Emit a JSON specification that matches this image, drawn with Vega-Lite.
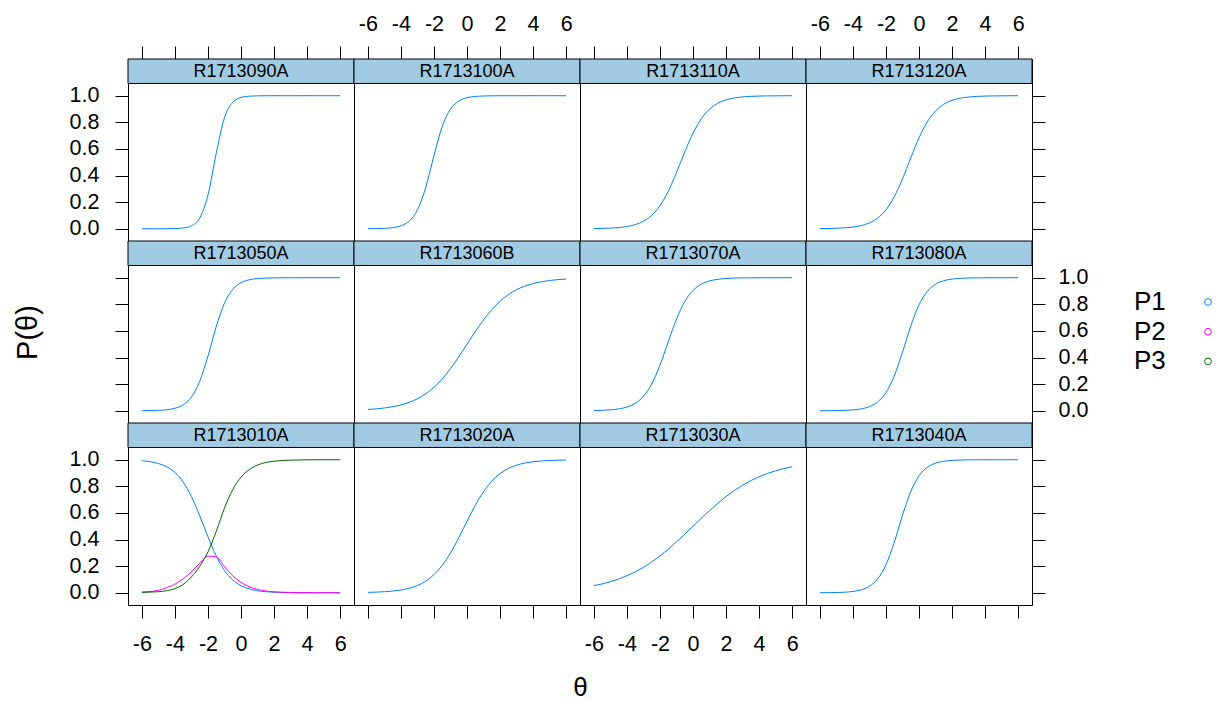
{
"$schema": "https://vega.github.io/schema/vega-lite/v6.json",
"background": "white",
"padding": {"left": 13, "top": 12, "right": 5, "bottom": 0},
"config": {
  "font": "Liberation Sans",
  "view": {"stroke": "#000000", "strokeWidth": 1},
  "axis": {"labelFont": "Liberation Sans", "labelFontSize": 21.5, "labelColor": "#000000", "tickColor": "#000000", "tickWidth": 1, "tickSize": 13, "titleFont": "Liberation Sans", "titleFontSize": 27, "titleFontWeight": "normal", "titleColor": "#000000", "domain": false, "grid": false, "labelFlush": false, "labelOverlap": false}
},
"datasets": {
"strips": [{"item":"R1713090A"},{"item":"R1713100A"},{"item":"R1713110A"},{"item":"R1713120A"},{"item":"R1713050A"},{"item":"R1713060B"},{"item":"R1713070A"},{"item":"R1713080A"},{"item":"R1713010A"},{"item":"R1713020A"},{"item":"R1713030A"},{"item":"R1713040A"}],
"curves": [
{"item":"R1713090A","cat":"P1","theta":-6,"p":0},{"item":"R1713090A","cat":"P1","theta":-5.5,"p":0},{"item":"R1713090A","cat":"P1","theta":-5,"p":0.0001},{"item":"R1713090A","cat":"P1","theta":-4.5,"p":0.0004},{"item":"R1713090A","cat":"P1","theta":-4,"p":0.0015},{"item":"R1713090A","cat":"P1","theta":-3.5,"p":0.0059},{"item":"R1713090A","cat":"P1","theta":-3,"p":0.0223},{"item":"R1713090A","cat":"P1","theta":-2.5,"p":0.0809},{"item":"R1713090A","cat":"P1","theta":-2,"p":0.2535},{"item":"R1713090A","cat":"P1","theta":-1.5,"p":0.5671},{"item":"R1713090A","cat":"P1","theta":-1,"p":0.8348},{"item":"R1713090A","cat":"P1","theta":-0.5,"p":0.9512},{"item":"R1713090A","cat":"P1","theta":0,"p":0.9869},{"item":"R1713090A","cat":"P1","theta":0.5,"p":0.9966},{"item":"R1713090A","cat":"P1","theta":1,"p":0.9991},{"item":"R1713090A","cat":"P1","theta":1.5,"p":0.9998},{"item":"R1713090A","cat":"P1","theta":2,"p":0.9999},{"item":"R1713090A","cat":"P1","theta":2.5,"p":1},{"item":"R1713090A","cat":"P1","theta":3,"p":1},{"item":"R1713090A","cat":"P1","theta":3.5,"p":1},{"item":"R1713090A","cat":"P1","theta":4,"p":1},{"item":"R1713090A","cat":"P1","theta":4.5,"p":1},{"item":"R1713090A","cat":"P1","theta":5,"p":1},{"item":"R1713090A","cat":"P1","theta":5.5,"p":1},{"item":"R1713090A","cat":"P1","theta":6,"p":1},
{"item":"R1713100A","cat":"P1","theta":-6,"p":0.0004},{"item":"R1713100A","cat":"P1","theta":-5.5,"p":0.0011},{"item":"R1713100A","cat":"P1","theta":-5,"p":0.003},{"item":"R1713100A","cat":"P1","theta":-4.5,"p":0.0082},{"item":"R1713100A","cat":"P1","theta":-4,"p":0.0219},{"item":"R1713100A","cat":"P1","theta":-3.5,"p":0.0573},{"item":"R1713100A","cat":"P1","theta":-3,"p":0.1419},{"item":"R1713100A","cat":"P1","theta":-2.5,"p":0.31},{"item":"R1713100A","cat":"P1","theta":-2,"p":0.5498},{"item":"R1713100A","cat":"P1","theta":-1.5,"p":0.7685},{"item":"R1713100A","cat":"P1","theta":-1,"p":0.9002},{"item":"R1713100A","cat":"P1","theta":-0.5,"p":0.9608},{"item":"R1713100A","cat":"P1","theta":0,"p":0.9852},{"item":"R1713100A","cat":"P1","theta":0.5,"p":0.9945},{"item":"R1713100A","cat":"P1","theta":1,"p":0.998},{"item":"R1713100A","cat":"P1","theta":1.5,"p":0.9993},{"item":"R1713100A","cat":"P1","theta":2,"p":0.9997},{"item":"R1713100A","cat":"P1","theta":2.5,"p":0.9999},{"item":"R1713100A","cat":"P1","theta":3,"p":1},{"item":"R1713100A","cat":"P1","theta":3.5,"p":1},{"item":"R1713100A","cat":"P1","theta":4,"p":1},{"item":"R1713100A","cat":"P1","theta":4.5,"p":1},{"item":"R1713100A","cat":"P1","theta":5,"p":1},{"item":"R1713100A","cat":"P1","theta":5.5,"p":1},{"item":"R1713100A","cat":"P1","theta":6,"p":1},
{"item":"R1713110A","cat":"P1","theta":-6,"p":0.0014},{"item":"R1713110A","cat":"P1","theta":-5.5,"p":0.0026},{"item":"R1713110A","cat":"P1","theta":-5,"p":0.0049},{"item":"R1713110A","cat":"P1","theta":-4.5,"p":0.0091},{"item":"R1713110A","cat":"P1","theta":-4,"p":0.0169},{"item":"R1713110A","cat":"P1","theta":-3.5,"p":0.0311},{"item":"R1713110A","cat":"P1","theta":-3,"p":0.0567},{"item":"R1713110A","cat":"P1","theta":-2.5,"p":0.1009},{"item":"R1713110A","cat":"P1","theta":-2,"p":0.1733},{"item":"R1713110A","cat":"P1","theta":-1.5,"p":0.2814},{"item":"R1713110A","cat":"P1","theta":-1,"p":0.4225},{"item":"R1713110A","cat":"P1","theta":-0.5,"p":0.5775},{"item":"R1713110A","cat":"P1","theta":0,"p":0.7186},{"item":"R1713110A","cat":"P1","theta":0.5,"p":0.8267},{"item":"R1713110A","cat":"P1","theta":1,"p":0.8991},{"item":"R1713110A","cat":"P1","theta":1.5,"p":0.9433},{"item":"R1713110A","cat":"P1","theta":2,"p":0.9689},{"item":"R1713110A","cat":"P1","theta":2.5,"p":0.9831},{"item":"R1713110A","cat":"P1","theta":3,"p":0.9909},{"item":"R1713110A","cat":"P1","theta":3.5,"p":0.9951},{"item":"R1713110A","cat":"P1","theta":4,"p":0.9974},{"item":"R1713110A","cat":"P1","theta":4.5,"p":0.9986},{"item":"R1713110A","cat":"P1","theta":5,"p":0.9992},{"item":"R1713110A","cat":"P1","theta":5.5,"p":0.9996},{"item":"R1713110A","cat":"P1","theta":6,"p":0.9998},
{"item":"R1713120A","cat":"P1","theta":-6,"p":0.001},{"item":"R1713120A","cat":"P1","theta":-5.5,"p":0.0019},{"item":"R1713120A","cat":"P1","theta":-5,"p":0.0036},{"item":"R1713120A","cat":"P1","theta":-4.5,"p":0.0067},{"item":"R1713120A","cat":"P1","theta":-4,"p":0.0127},{"item":"R1713120A","cat":"P1","theta":-3.5,"p":0.0239},{"item":"R1713120A","cat":"P1","theta":-3,"p":0.0443},{"item":"R1713120A","cat":"P1","theta":-2.5,"p":0.0808},{"item":"R1713120A","cat":"P1","theta":-2,"p":0.1428},{"item":"R1713120A","cat":"P1","theta":-1.5,"p":0.2401},{"item":"R1713120A","cat":"P1","theta":-1,"p":0.3747},{"item":"R1713120A","cat":"P1","theta":-0.5,"p":0.532},{"item":"R1713120A","cat":"P1","theta":0,"p":0.6831},{"item":"R1713120A","cat":"P1","theta":0.5,"p":0.8035},{"item":"R1713120A","cat":"P1","theta":1,"p":0.8857},{"item":"R1713120A","cat":"P1","theta":1.5,"p":0.9364},{"item":"R1713120A","cat":"P1","theta":2,"p":0.9653},{"item":"R1713120A","cat":"P1","theta":2.5,"p":0.9814},{"item":"R1713120A","cat":"P1","theta":3,"p":0.9901},{"item":"R1713120A","cat":"P1","theta":3.5,"p":0.9948},{"item":"R1713120A","cat":"P1","theta":4,"p":0.9972},{"item":"R1713120A","cat":"P1","theta":4.5,"p":0.9985},{"item":"R1713120A","cat":"P1","theta":5,"p":0.9992},{"item":"R1713120A","cat":"P1","theta":5.5,"p":0.9996},{"item":"R1713120A","cat":"P1","theta":6,"p":0.9998},
{"item":"R1713050A","cat":"P1","theta":-6,"p":0.0005},{"item":"R1713050A","cat":"P1","theta":-5.5,"p":0.0013},{"item":"R1713050A","cat":"P1","theta":-5,"p":0.0031},{"item":"R1713050A","cat":"P1","theta":-4.5,"p":0.0077},{"item":"R1713050A","cat":"P1","theta":-4,"p":0.0187},{"item":"R1713050A","cat":"P1","theta":-3.5,"p":0.0448},{"item":"R1713050A","cat":"P1","theta":-3,"p":0.1034},{"item":"R1713050A","cat":"P1","theta":-2.5,"p":0.221},{"item":"R1713050A","cat":"P1","theta":-2,"p":0.411},{"item":"R1713050A","cat":"P1","theta":-1.5,"p":0.6318},{"item":"R1713050A","cat":"P1","theta":-1,"p":0.8085},{"item":"R1713050A","cat":"P1","theta":-0.5,"p":0.9122},{"item":"R1713050A","cat":"P1","theta":0,"p":0.9623},{"item":"R1713050A","cat":"P1","theta":0.5,"p":0.9843},{"item":"R1713050A","cat":"P1","theta":1,"p":0.9936},{"item":"R1713050A","cat":"P1","theta":1.5,"p":0.9974},{"item":"R1713050A","cat":"P1","theta":2,"p":0.9989},{"item":"R1713050A","cat":"P1","theta":2.5,"p":0.9996},{"item":"R1713050A","cat":"P1","theta":3,"p":0.9998},{"item":"R1713050A","cat":"P1","theta":3.5,"p":0.9999},{"item":"R1713050A","cat":"P1","theta":4,"p":1},{"item":"R1713050A","cat":"P1","theta":4.5,"p":1},{"item":"R1713050A","cat":"P1","theta":5,"p":1},{"item":"R1713050A","cat":"P1","theta":5.5,"p":1},{"item":"R1713050A","cat":"P1","theta":6,"p":1},
{"item":"R1713060B","cat":"P1","theta":-6,"p":0.0098},{"item":"R1713060B","cat":"P1","theta":-5.5,"p":0.0143},{"item":"R1713060B","cat":"P1","theta":-5,"p":0.0208},{"item":"R1713060B","cat":"P1","theta":-4.5,"p":0.0303},{"item":"R1713060B","cat":"P1","theta":-4,"p":0.0439},{"item":"R1713060B","cat":"P1","theta":-3.5,"p":0.0633},{"item":"R1713060B","cat":"P1","theta":-3,"p":0.0903},{"item":"R1713060B","cat":"P1","theta":-2.5,"p":0.1273},{"item":"R1713060B","cat":"P1","theta":-2,"p":0.1765},{"item":"R1713060B","cat":"P1","theta":-1.5,"p":0.2396},{"item":"R1713060B","cat":"P1","theta":-1,"p":0.3165},{"item":"R1713060B","cat":"P1","theta":-0.5,"p":0.4049},{"item":"R1713060B","cat":"P1","theta":0,"p":0.5},{"item":"R1713060B","cat":"P1","theta":0.5,"p":0.5951},{"item":"R1713060B","cat":"P1","theta":1,"p":0.6835},{"item":"R1713060B","cat":"P1","theta":1.5,"p":0.7604},{"item":"R1713060B","cat":"P1","theta":2,"p":0.8235},{"item":"R1713060B","cat":"P1","theta":2.5,"p":0.8727},{"item":"R1713060B","cat":"P1","theta":3,"p":0.9097},{"item":"R1713060B","cat":"P1","theta":3.5,"p":0.9367},{"item":"R1713060B","cat":"P1","theta":4,"p":0.9561},{"item":"R1713060B","cat":"P1","theta":4.5,"p":0.9697},{"item":"R1713060B","cat":"P1","theta":5,"p":0.9792},{"item":"R1713060B","cat":"P1","theta":5.5,"p":0.9857},{"item":"R1713060B","cat":"P1","theta":6,"p":0.9902},
{"item":"R1713070A","cat":"P1","theta":-6,"p":0.0016},{"item":"R1713070A","cat":"P1","theta":-5.5,"p":0.0032},{"item":"R1713070A","cat":"P1","theta":-5,"p":0.0067},{"item":"R1713070A","cat":"P1","theta":-4.5,"p":0.0137},{"item":"R1713070A","cat":"P1","theta":-4,"p":0.0279},{"item":"R1713070A","cat":"P1","theta":-3.5,"p":0.0559},{"item":"R1713070A","cat":"P1","theta":-3,"p":0.1089},{"item":"R1713070A","cat":"P1","theta":-2.5,"p":0.2014},{"item":"R1713070A","cat":"P1","theta":-2,"p":0.3424},{"item":"R1713070A","cat":"P1","theta":-1.5,"p":0.5181},{"item":"R1713070A","cat":"P1","theta":-1,"p":0.6894},{"item":"R1713070A","cat":"P1","theta":-0.5,"p":0.8209},{"item":"R1713070A","cat":"P1","theta":0,"p":0.9044},{"item":"R1713070A","cat":"P1","theta":0.5,"p":0.9513},{"item":"R1713070A","cat":"P1","theta":1,"p":0.9758},{"item":"R1713070A","cat":"P1","theta":1.5,"p":0.9881},{"item":"R1713070A","cat":"P1","theta":2,"p":0.9942},{"item":"R1713070A","cat":"P1","theta":2.5,"p":0.9972},{"item":"R1713070A","cat":"P1","theta":3,"p":0.9986},{"item":"R1713070A","cat":"P1","theta":3.5,"p":0.9993},{"item":"R1713070A","cat":"P1","theta":4,"p":0.9997},{"item":"R1713070A","cat":"P1","theta":4.5,"p":0.9998},{"item":"R1713070A","cat":"P1","theta":5,"p":0.9999},{"item":"R1713070A","cat":"P1","theta":5.5,"p":0.9999},{"item":"R1713070A","cat":"P1","theta":6,"p":1},
{"item":"R1713080A","cat":"P1","theta":-6,"p":0.0003},{"item":"R1713080A","cat":"P1","theta":-5.5,"p":0.0006},{"item":"R1713080A","cat":"P1","theta":-5,"p":0.0013},{"item":"R1713080A","cat":"P1","theta":-4.5,"p":0.0029},{"item":"R1713080A","cat":"P1","theta":-4,"p":0.0064},{"item":"R1713080A","cat":"P1","theta":-3.5,"p":0.0142},{"item":"R1713080A","cat":"P1","theta":-3,"p":0.0311},{"item":"R1713080A","cat":"P1","theta":-2.5,"p":0.0666},{"item":"R1713080A","cat":"P1","theta":-2,"p":0.137},{"item":"R1713080A","cat":"P1","theta":-1.5,"p":0.2611},{"item":"R1713080A","cat":"P1","theta":-1,"p":0.4403},{"item":"R1713080A","cat":"P1","theta":-0.5,"p":0.6365},{"item":"R1713080A","cat":"P1","theta":0,"p":0.7958},{"item":"R1713080A","cat":"P1","theta":0.5,"p":0.8966},{"item":"R1713080A","cat":"P1","theta":1,"p":0.9508},{"item":"R1713080A","cat":"P1","theta":1.5,"p":0.9773},{"item":"R1713080A","cat":"P1","theta":2,"p":0.9896},{"item":"R1713080A","cat":"P1","theta":2.5,"p":0.9953},{"item":"R1713080A","cat":"P1","theta":3,"p":0.9979},{"item":"R1713080A","cat":"P1","theta":3.5,"p":0.9991},{"item":"R1713080A","cat":"P1","theta":4,"p":0.9996},{"item":"R1713080A","cat":"P1","theta":4.5,"p":0.9998},{"item":"R1713080A","cat":"P1","theta":5,"p":0.9999},{"item":"R1713080A","cat":"P1","theta":5.5,"p":1},{"item":"R1713080A","cat":"P1","theta":6,"p":1},
{"item":"R1713010A","cat":"P1","theta":-6,"p":0.992},{"item":"R1713010A","cat":"P1","theta":-5.5,"p":0.985},{"item":"R1713010A","cat":"P1","theta":-5,"p":0.971},{"item":"R1713010A","cat":"P1","theta":-4.5,"p":0.947},{"item":"R1713010A","cat":"P1","theta":-4,"p":0.904},{"item":"R1713010A","cat":"P1","theta":-3.5,"p":0.832},{"item":"R1713010A","cat":"P1","theta":-3,"p":0.723},{"item":"R1713010A","cat":"P1","theta":-2.5,"p":0.579},{"item":"R1713010A","cat":"P1","theta":-2,"p":0.421},{"item":"R1713010A","cat":"P1","theta":-1.5,"p":0.277},{"item":"R1713010A","cat":"P1","theta":-1,"p":0.168},{"item":"R1713010A","cat":"P1","theta":-0.5,"p":0.096},{"item":"R1713010A","cat":"P1","theta":0,"p":0.053},{"item":"R1713010A","cat":"P1","theta":0.5,"p":0.029},{"item":"R1713010A","cat":"P1","theta":1,"p":0.015},{"item":"R1713010A","cat":"P1","theta":1.5,"p":0.008},{"item":"R1713010A","cat":"P1","theta":2,"p":0.004},{"item":"R1713010A","cat":"P1","theta":2.5,"p":0.002},{"item":"R1713010A","cat":"P1","theta":3,"p":0.001},{"item":"R1713010A","cat":"P1","theta":3.5,"p":0.0006},{"item":"R1713010A","cat":"P1","theta":4,"p":0.0003},{"item":"R1713010A","cat":"P1","theta":4.5,"p":0.0001},{"item":"R1713010A","cat":"P1","theta":5,"p":0.0001},{"item":"R1713010A","cat":"P1","theta":5.5,"p":0},{"item":"R1713010A","cat":"P1","theta":6,"p":0},
{"item":"R1713010A","cat":"P2","theta":-6,"p":0.005},{"item":"R1713010A","cat":"P2","theta":-5.5,"p":0.009},{"item":"R1713010A","cat":"P2","theta":-5,"p":0.018},{"item":"R1713010A","cat":"P2","theta":-4.5,"p":0.038},{"item":"R1713010A","cat":"P2","theta":-4,"p":0.065},{"item":"R1713010A","cat":"P2","theta":-3.5,"p":0.105},{"item":"R1713010A","cat":"P2","theta":-3,"p":0.158},{"item":"R1713010A","cat":"P2","theta":-2.5,"p":0.222},{"item":"R1713010A","cat":"P2","theta":-2,"p":0.275},{"item":"R1713010A","cat":"P2","theta":-1.5,"p":0.27},{"item":"R1713010A","cat":"P2","theta":-1,"p":0.196},{"item":"R1713010A","cat":"P2","theta":-0.5,"p":0.128},{"item":"R1713010A","cat":"P2","theta":0,"p":0.078},{"item":"R1713010A","cat":"P2","theta":0.5,"p":0.045},{"item":"R1713010A","cat":"P2","theta":1,"p":0.025},{"item":"R1713010A","cat":"P2","theta":1.5,"p":0.013},{"item":"R1713010A","cat":"P2","theta":2,"p":0.007},{"item":"R1713010A","cat":"P2","theta":2.5,"p":0.004},{"item":"R1713010A","cat":"P2","theta":3,"p":0.002},{"item":"R1713010A","cat":"P2","theta":3.5,"p":0.001},{"item":"R1713010A","cat":"P2","theta":4,"p":0.0005},{"item":"R1713010A","cat":"P2","theta":4.5,"p":0.0003},{"item":"R1713010A","cat":"P2","theta":5,"p":0.0002},{"item":"R1713010A","cat":"P2","theta":5.5,"p":0.0001},{"item":"R1713010A","cat":"P2","theta":6,"p":0.0001},
{"item":"R1713010A","cat":"P3","theta":-6,"p":0.003},{"item":"R1713010A","cat":"P3","theta":-5.5,"p":0.005},{"item":"R1713010A","cat":"P3","theta":-5,"p":0.008},{"item":"R1713010A","cat":"P3","theta":-4.5,"p":0.015},{"item":"R1713010A","cat":"P3","theta":-4,"p":0.031},{"item":"R1713010A","cat":"P3","theta":-3.5,"p":0.063},{"item":"R1713010A","cat":"P3","theta":-3,"p":0.119},{"item":"R1713010A","cat":"P3","theta":-2.5,"p":0.199},{"item":"R1713010A","cat":"P3","theta":-2,"p":0.307},{"item":"R1713010A","cat":"P3","theta":-1.5,"p":0.461},{"item":"R1713010A","cat":"P3","theta":-1,"p":0.636},{"item":"R1713010A","cat":"P3","theta":-0.5,"p":0.776},{"item":"R1713010A","cat":"P3","theta":0,"p":0.869},{"item":"R1713010A","cat":"P3","theta":0.5,"p":0.926},{"item":"R1713010A","cat":"P3","theta":1,"p":0.96},{"item":"R1713010A","cat":"P3","theta":1.5,"p":0.979},{"item":"R1713010A","cat":"P3","theta":2,"p":0.989},{"item":"R1713010A","cat":"P3","theta":2.5,"p":0.994},{"item":"R1713010A","cat":"P3","theta":3,"p":0.997},{"item":"R1713010A","cat":"P3","theta":3.5,"p":0.998},{"item":"R1713010A","cat":"P3","theta":4,"p":0.999},{"item":"R1713010A","cat":"P3","theta":4.5,"p":0.9996},{"item":"R1713010A","cat":"P3","theta":5,"p":0.9997},{"item":"R1713010A","cat":"P3","theta":5.5,"p":0.9999},{"item":"R1713010A","cat":"P3","theta":6,"p":0.9999},
{"item":"R1713020A","cat":"P1","theta":-6,"p":0.0029},{"item":"R1713020A","cat":"P1","theta":-5.5,"p":0.0047},{"item":"R1713020A","cat":"P1","theta":-5,"p":0.0078},{"item":"R1713020A","cat":"P1","theta":-4.5,"p":0.0127},{"item":"R1713020A","cat":"P1","theta":-4,"p":0.0208},{"item":"R1713020A","cat":"P1","theta":-3.5,"p":0.0339},{"item":"R1713020A","cat":"P1","theta":-3,"p":0.0547},{"item":"R1713020A","cat":"P1","theta":-2.5,"p":0.087},{"item":"R1713020A","cat":"P1","theta":-2,"p":0.1359},{"item":"R1713020A","cat":"P1","theta":-1.5,"p":0.2059},{"item":"R1713020A","cat":"P1","theta":-1,"p":0.2994},{"item":"R1713020A","cat":"P1","theta":-0.5,"p":0.4134},{"item":"R1713020A","cat":"P1","theta":0,"p":0.5374},{"item":"R1713020A","cat":"P1","theta":0.5,"p":0.657},{"item":"R1713020A","cat":"P1","theta":1,"p":0.7595},{"item":"R1713020A","cat":"P1","theta":1.5,"p":0.8389},{"item":"R1713020A","cat":"P1","theta":2,"p":0.8957},{"item":"R1713020A","cat":"P1","theta":2.5,"p":0.934},{"item":"R1713020A","cat":"P1","theta":3,"p":0.9589},{"item":"R1713020A","cat":"P1","theta":3.5,"p":0.9747},{"item":"R1713020A","cat":"P1","theta":4,"p":0.9845},{"item":"R1713020A","cat":"P1","theta":4.5,"p":0.9905},{"item":"R1713020A","cat":"P1","theta":5,"p":0.9942},{"item":"R1713020A","cat":"P1","theta":5.5,"p":0.9965},{"item":"R1713020A","cat":"P1","theta":6,"p":0.9979},
{"item":"R1713030A","cat":"P1","theta":-6,"p":0.0532},{"item":"R1713030A","cat":"P1","theta":-5.5,"p":0.0666},{"item":"R1713030A","cat":"P1","theta":-5,"p":0.0832},{"item":"R1713030A","cat":"P1","theta":-4.5,"p":0.1034},{"item":"R1713030A","cat":"P1","theta":-4,"p":0.1279},{"item":"R1713030A","cat":"P1","theta":-3.5,"p":0.1571},{"item":"R1713030A","cat":"P1","theta":-3,"p":0.1915},{"item":"R1713030A","cat":"P1","theta":-2.5,"p":0.2315},{"item":"R1713030A","cat":"P1","theta":-2,"p":0.2769},{"item":"R1713030A","cat":"P1","theta":-1.5,"p":0.3274},{"item":"R1713030A","cat":"P1","theta":-1,"p":0.3823},{"item":"R1713030A","cat":"P1","theta":-0.5,"p":0.4403},{"item":"R1713030A","cat":"P1","theta":0,"p":0.5},{"item":"R1713030A","cat":"P1","theta":0.5,"p":0.5597},{"item":"R1713030A","cat":"P1","theta":1,"p":0.6177},{"item":"R1713030A","cat":"P1","theta":1.5,"p":0.6726},{"item":"R1713030A","cat":"P1","theta":2,"p":0.7231},{"item":"R1713030A","cat":"P1","theta":2.5,"p":0.7685},{"item":"R1713030A","cat":"P1","theta":3,"p":0.8085},{"item":"R1713030A","cat":"P1","theta":3.5,"p":0.8429},{"item":"R1713030A","cat":"P1","theta":4,"p":0.8721},{"item":"R1713030A","cat":"P1","theta":4.5,"p":0.8966},{"item":"R1713030A","cat":"P1","theta":5,"p":0.9168},{"item":"R1713030A","cat":"P1","theta":5.5,"p":0.9334},{"item":"R1713030A","cat":"P1","theta":6,"p":0.9468},
{"item":"R1713040A","cat":"P1","theta":-6,"p":0.0004},{"item":"R1713040A","cat":"P1","theta":-5.5,"p":0.0008},{"item":"R1713040A","cat":"P1","theta":-5,"p":0.0019},{"item":"R1713040A","cat":"P1","theta":-4.5,"p":0.0043},{"item":"R1713040A","cat":"P1","theta":-4,"p":0.0098},{"item":"R1713040A","cat":"P1","theta":-3.5,"p":0.022},{"item":"R1713040A","cat":"P1","theta":-3,"p":0.0488},{"item":"R1713040A","cat":"P1","theta":-2.5,"p":0.1048},{"item":"R1713040A","cat":"P1","theta":-2,"p":0.2108},{"item":"R1713040A","cat":"P1","theta":-1.5,"p":0.3787},{"item":"R1713040A","cat":"P1","theta":-1,"p":0.5818},{"item":"R1713040A","cat":"P1","theta":-0.5,"p":0.7604},{"item":"R1713040A","cat":"P1","theta":0,"p":0.8787},{"item":"R1713040A","cat":"P1","theta":0.5,"p":0.943},{"item":"R1713040A","cat":"P1","theta":1,"p":0.9742},{"item":"R1713040A","cat":"P1","theta":1.5,"p":0.9885},{"item":"R1713040A","cat":"P1","theta":2,"p":0.9949},{"item":"R1713040A","cat":"P1","theta":2.5,"p":0.9978},{"item":"R1713040A","cat":"P1","theta":3,"p":0.999},{"item":"R1713040A","cat":"P1","theta":3.5,"p":0.9996},{"item":"R1713040A","cat":"P1","theta":4,"p":0.9998},{"item":"R1713040A","cat":"P1","theta":4.5,"p":0.9999},{"item":"R1713040A","cat":"P1","theta":5,"p":1},{"item":"R1713040A","cat":"P1","theta":5.5,"p":1},{"item":"R1713040A","cat":"P1","theta":6,"p":1}
]
},
"columns": 4,
"spacing": 0,
"bounds": "flush",
"concat": [
{"width": 226, "height": 182, "layer": [
 {"data": {"name": "strips"}, "transform": [{"filter": "datum.item === 'R1713090A'"}], "mark": {"type": "rect", "fill": "#A0CBE2", "stroke": "#000000", "strokeWidth": 1}, "encoding": {"x": {"datum": -6.84, "type": "quantitative", "scale": {"domain": [-6.84, 6.84], "nice": false, "zero": false}, "axis": {"orient": "top", "values": [-6,-4,-2,0,2,4,6], "labels": false, "title": null, "labelFlush": false}}, "x2": {"datum": 6.84}, "y": {"datum": 1.092, "type": "quantitative", "scale": {"domain": [-0.092, 1.276], "nice": false, "zero": false}, "axis": {"orient": "left", "values": [0,0.2,0.4,0.6,0.8,1], "format": ".1f", "labelPadding": 16, "title": null, "labelFlush": false}}, "y2": {"datum": 1.276}}},
 {"data": {"name": "strips"}, "transform": [{"filter": "datum.item === 'R1713090A'"}], "mark": {"type": "text", "fontSize": 18, "font": "Liberation Sans", "color": "#000000", "baseline": "middle", "dy": 1}, "encoding": {"x": {"datum": 0, "type": "quantitative", "scale": {"domain": [-6.84, 6.84], "nice": false, "zero": false}, "axis": {"orient": "top", "values": [-6,-4,-2,0,2,4,6], "labels": false, "title": null, "labelFlush": false}}, "y": {"datum": 1.184, "type": "quantitative", "scale": {"domain": [-0.092, 1.276], "nice": false, "zero": false}, "axis": {"orient": "left", "values": [0,0.2,0.4,0.6,0.8,1], "format": ".1f", "labelPadding": 16, "title": null, "labelFlush": false}}, "text": {"field": "item", "type": "nominal"}}},
 {"data": {"name": "curves"}, "transform": [{"filter": "datum.item === 'R1713090A'"}], "mark": {"type": "line", "strokeWidth": 1, "interpolate": "monotone"}, "encoding": {
   "x": {"field": "theta", "type": "quantitative", "scale": {"domain": [-6.84, 6.84], "nice": false, "zero": false}, "axis": {"orient": "top", "values": [-6,-4,-2,0,2,4,6], "labels": false, "title": null, "labelFlush": false}},
   "y": {"field": "p", "type": "quantitative", "scale": {"domain": [-0.092, 1.276], "nice": false, "zero": false}, "axis": {"orient": "left", "values": [0,0.2,0.4,0.6,0.8,1], "format": ".1f", "labelPadding": 16, "title": null, "labelFlush": false}},
   "color": {"field": "cat", "type": "nominal", "scale": {"domain": ["P1","P2","P3"], "range": ["#0080FF","#FF00FF","#006400"]}, "legend": {"orient": "none", "legendX": 987, "legendY": 230, "title": null, "symbolType": "circle", "symbolSize": 45, "symbolStrokeWidth": 1, "symbolFillColor": "transparent", "labelFontSize": 26, "labelFont": "Liberation Sans", "labelColor": "#000000", "symbolOffset": 80, "labelOffset": -87, "rowPadding": 3.7, "padding": 0}}}}
]},
{"width": 226, "height": 182, "layer": [
 {"data": {"name": "strips"}, "transform": [{"filter": "datum.item === 'R1713100A'"}], "mark": {"type": "rect", "fill": "#A0CBE2", "stroke": "#000000", "strokeWidth": 1}, "encoding": {"x": {"datum": -6.84, "type": "quantitative", "scale": {"domain": [-6.84, 6.84], "nice": false, "zero": false}, "axis": {"orient": "top", "values": [-6,-4,-2,0,2,4,6], "labelPadding": 11, "labelExpr": "'' + datum.value", "title": null, "labelFlush": false}}, "x2": {"datum": 6.84}, "y": {"datum": 1.092, "type": "quantitative", "scale": {"domain": [-0.092, 1.276], "nice": false, "zero": false}, "axis": null}, "y2": {"datum": 1.276}}},
 {"data": {"name": "strips"}, "transform": [{"filter": "datum.item === 'R1713100A'"}], "mark": {"type": "text", "fontSize": 18, "font": "Liberation Sans", "color": "#000000", "baseline": "middle", "dy": 1}, "encoding": {"x": {"datum": 0, "type": "quantitative", "scale": {"domain": [-6.84, 6.84], "nice": false, "zero": false}, "axis": {"orient": "top", "values": [-6,-4,-2,0,2,4,6], "labelPadding": 11, "labelExpr": "'' + datum.value", "title": null, "labelFlush": false}}, "y": {"datum": 1.184, "type": "quantitative", "scale": {"domain": [-0.092, 1.276], "nice": false, "zero": false}, "axis": null}, "text": {"field": "item", "type": "nominal"}}},
 {"data": {"name": "curves"}, "transform": [{"filter": "datum.item === 'R1713100A'"}], "mark": {"type": "line", "strokeWidth": 1, "interpolate": "monotone"}, "encoding": {
   "x": {"field": "theta", "type": "quantitative", "scale": {"domain": [-6.84, 6.84], "nice": false, "zero": false}, "axis": {"orient": "top", "values": [-6,-4,-2,0,2,4,6], "labelPadding": 11, "labelExpr": "'' + datum.value", "title": null, "labelFlush": false}},
   "y": {"field": "p", "type": "quantitative", "scale": {"domain": [-0.092, 1.276], "nice": false, "zero": false}, "axis": null},
   "color": {"field": "cat", "type": "nominal", "scale": {"domain": ["P1","P2","P3"], "range": ["#0080FF","#FF00FF","#006400"]}, "legend": {"orient": "none", "legendX": 987, "legendY": 230, "title": null, "symbolType": "circle", "symbolSize": 45, "symbolStrokeWidth": 1, "symbolFillColor": "transparent", "labelFontSize": 26, "labelFont": "Liberation Sans", "labelColor": "#000000", "symbolOffset": 80, "labelOffset": -87, "rowPadding": 3.7, "padding": 0}}}}
]},
{"width": 226, "height": 182, "layer": [
 {"data": {"name": "strips"}, "transform": [{"filter": "datum.item === 'R1713110A'"}], "mark": {"type": "rect", "fill": "#A0CBE2", "stroke": "#000000", "strokeWidth": 1}, "encoding": {"x": {"datum": -6.84, "type": "quantitative", "scale": {"domain": [-6.84, 6.84], "nice": false, "zero": false}, "axis": {"orient": "top", "values": [-6,-4,-2,0,2,4,6], "labels": false, "title": null, "labelFlush": false}}, "x2": {"datum": 6.84}, "y": {"datum": 1.092, "type": "quantitative", "scale": {"domain": [-0.092, 1.276], "nice": false, "zero": false}, "axis": null}, "y2": {"datum": 1.276}}},
 {"data": {"name": "strips"}, "transform": [{"filter": "datum.item === 'R1713110A'"}], "mark": {"type": "text", "fontSize": 18, "font": "Liberation Sans", "color": "#000000", "baseline": "middle", "dy": 1}, "encoding": {"x": {"datum": 0, "type": "quantitative", "scale": {"domain": [-6.84, 6.84], "nice": false, "zero": false}, "axis": {"orient": "top", "values": [-6,-4,-2,0,2,4,6], "labels": false, "title": null, "labelFlush": false}}, "y": {"datum": 1.184, "type": "quantitative", "scale": {"domain": [-0.092, 1.276], "nice": false, "zero": false}, "axis": null}, "text": {"field": "item", "type": "nominal"}}},
 {"data": {"name": "curves"}, "transform": [{"filter": "datum.item === 'R1713110A'"}], "mark": {"type": "line", "strokeWidth": 1, "interpolate": "monotone"}, "encoding": {
   "x": {"field": "theta", "type": "quantitative", "scale": {"domain": [-6.84, 6.84], "nice": false, "zero": false}, "axis": {"orient": "top", "values": [-6,-4,-2,0,2,4,6], "labels": false, "title": null, "labelFlush": false}},
   "y": {"field": "p", "type": "quantitative", "scale": {"domain": [-0.092, 1.276], "nice": false, "zero": false}, "axis": null},
   "color": {"field": "cat", "type": "nominal", "scale": {"domain": ["P1","P2","P3"], "range": ["#0080FF","#FF00FF","#006400"]}, "legend": {"orient": "none", "legendX": 987, "legendY": 230, "title": null, "symbolType": "circle", "symbolSize": 45, "symbolStrokeWidth": 1, "symbolFillColor": "transparent", "labelFontSize": 26, "labelFont": "Liberation Sans", "labelColor": "#000000", "symbolOffset": 80, "labelOffset": -87, "rowPadding": 3.7, "padding": 0}}}}
]},
{"width": 226, "height": 182, "layer": [
 {"data": {"name": "strips"}, "transform": [{"filter": "datum.item === 'R1713120A'"}], "mark": {"type": "rect", "fill": "#A0CBE2", "stroke": "#000000", "strokeWidth": 1}, "encoding": {"x": {"datum": -6.84, "type": "quantitative", "scale": {"domain": [-6.84, 6.84], "nice": false, "zero": false}, "axis": {"orient": "top", "values": [-6,-4,-2,0,2,4,6], "labelPadding": 11, "labelExpr": "'' + datum.value", "title": null, "labelFlush": false}}, "x2": {"datum": 6.84}, "y": {"datum": 1.092, "type": "quantitative", "scale": {"domain": [-0.092, 1.276], "nice": false, "zero": false}, "axis": {"orient": "right", "values": [0,0.2,0.4,0.6,0.8,1], "labels": false, "title": null}}, "y2": {"datum": 1.276}}},
 {"data": {"name": "strips"}, "transform": [{"filter": "datum.item === 'R1713120A'"}], "mark": {"type": "text", "fontSize": 18, "font": "Liberation Sans", "color": "#000000", "baseline": "middle", "dy": 1}, "encoding": {"x": {"datum": 0, "type": "quantitative", "scale": {"domain": [-6.84, 6.84], "nice": false, "zero": false}, "axis": {"orient": "top", "values": [-6,-4,-2,0,2,4,6], "labelPadding": 11, "labelExpr": "'' + datum.value", "title": null, "labelFlush": false}}, "y": {"datum": 1.184, "type": "quantitative", "scale": {"domain": [-0.092, 1.276], "nice": false, "zero": false}, "axis": {"orient": "right", "values": [0,0.2,0.4,0.6,0.8,1], "labels": false, "title": null}}, "text": {"field": "item", "type": "nominal"}}},
 {"data": {"name": "curves"}, "transform": [{"filter": "datum.item === 'R1713120A'"}], "mark": {"type": "line", "strokeWidth": 1, "interpolate": "monotone"}, "encoding": {
   "x": {"field": "theta", "type": "quantitative", "scale": {"domain": [-6.84, 6.84], "nice": false, "zero": false}, "axis": {"orient": "top", "values": [-6,-4,-2,0,2,4,6], "labelPadding": 11, "labelExpr": "'' + datum.value", "title": null, "labelFlush": false}},
   "y": {"field": "p", "type": "quantitative", "scale": {"domain": [-0.092, 1.276], "nice": false, "zero": false}, "axis": {"orient": "right", "values": [0,0.2,0.4,0.6,0.8,1], "labels": false, "title": null}},
   "color": {"field": "cat", "type": "nominal", "scale": {"domain": ["P1","P2","P3"], "range": ["#0080FF","#FF00FF","#006400"]}, "legend": {"orient": "none", "legendX": 987, "legendY": 230, "title": null, "symbolType": "circle", "symbolSize": 45, "symbolStrokeWidth": 1, "symbolFillColor": "transparent", "labelFontSize": 26, "labelFont": "Liberation Sans", "labelColor": "#000000", "symbolOffset": 80, "labelOffset": -87, "rowPadding": 3.7, "padding": 0}}}}
]},
{"width": 226, "height": 182, "layer": [
 {"data": {"name": "strips"}, "transform": [{"filter": "datum.item === 'R1713050A'"}], "mark": {"type": "rect", "fill": "#A0CBE2", "stroke": "#000000", "strokeWidth": 1}, "encoding": {"x": {"datum": -6.84, "type": "quantitative", "scale": {"domain": [-6.84, 6.84], "nice": false, "zero": false}, "axis": null}, "x2": {"datum": 6.84}, "y": {"datum": 1.092, "type": "quantitative", "scale": {"domain": [-0.092, 1.276], "nice": false, "zero": false}, "axis": {"orient": "left", "values": [0,0.2,0.4,0.6,0.8,1], "labels": false, "title": "P(θ)", "titlePadding": 72, "titleFontSize": 29}}, "y2": {"datum": 1.276}}},
 {"data": {"name": "strips"}, "transform": [{"filter": "datum.item === 'R1713050A'"}], "mark": {"type": "text", "fontSize": 18, "font": "Liberation Sans", "color": "#000000", "baseline": "middle", "dy": 1}, "encoding": {"x": {"datum": 0, "type": "quantitative", "scale": {"domain": [-6.84, 6.84], "nice": false, "zero": false}, "axis": null}, "y": {"datum": 1.184, "type": "quantitative", "scale": {"domain": [-0.092, 1.276], "nice": false, "zero": false}, "axis": {"orient": "left", "values": [0,0.2,0.4,0.6,0.8,1], "labels": false, "title": "P(θ)", "titlePadding": 72, "titleFontSize": 29}}, "text": {"field": "item", "type": "nominal"}}},
 {"data": {"name": "curves"}, "transform": [{"filter": "datum.item === 'R1713050A'"}], "mark": {"type": "line", "strokeWidth": 1, "interpolate": "monotone"}, "encoding": {
   "x": {"field": "theta", "type": "quantitative", "scale": {"domain": [-6.84, 6.84], "nice": false, "zero": false}, "axis": null},
   "y": {"field": "p", "type": "quantitative", "scale": {"domain": [-0.092, 1.276], "nice": false, "zero": false}, "axis": {"orient": "left", "values": [0,0.2,0.4,0.6,0.8,1], "labels": false, "title": "P(θ)", "titlePadding": 72, "titleFontSize": 29}},
   "color": {"field": "cat", "type": "nominal", "scale": {"domain": ["P1","P2","P3"], "range": ["#0080FF","#FF00FF","#006400"]}, "legend": {"orient": "none", "legendX": 987, "legendY": 230, "title": null, "symbolType": "circle", "symbolSize": 45, "symbolStrokeWidth": 1, "symbolFillColor": "transparent", "labelFontSize": 26, "labelFont": "Liberation Sans", "labelColor": "#000000", "symbolOffset": 80, "labelOffset": -87, "rowPadding": 3.7, "padding": 0}}}}
]},
{"width": 226, "height": 182, "layer": [
 {"data": {"name": "strips"}, "transform": [{"filter": "datum.item === 'R1713060B'"}], "mark": {"type": "rect", "fill": "#A0CBE2", "stroke": "#000000", "strokeWidth": 1}, "encoding": {"x": {"datum": -6.84, "type": "quantitative", "scale": {"domain": [-6.84, 6.84], "nice": false, "zero": false}, "axis": null}, "x2": {"datum": 6.84}, "y": {"datum": 1.092, "type": "quantitative", "scale": {"domain": [-0.092, 1.276], "nice": false, "zero": false}, "axis": null}, "y2": {"datum": 1.276}}},
 {"data": {"name": "strips"}, "transform": [{"filter": "datum.item === 'R1713060B'"}], "mark": {"type": "text", "fontSize": 18, "font": "Liberation Sans", "color": "#000000", "baseline": "middle", "dy": 1}, "encoding": {"x": {"datum": 0, "type": "quantitative", "scale": {"domain": [-6.84, 6.84], "nice": false, "zero": false}, "axis": null}, "y": {"datum": 1.184, "type": "quantitative", "scale": {"domain": [-0.092, 1.276], "nice": false, "zero": false}, "axis": null}, "text": {"field": "item", "type": "nominal"}}},
 {"data": {"name": "curves"}, "transform": [{"filter": "datum.item === 'R1713060B'"}], "mark": {"type": "line", "strokeWidth": 1, "interpolate": "monotone"}, "encoding": {
   "x": {"field": "theta", "type": "quantitative", "scale": {"domain": [-6.84, 6.84], "nice": false, "zero": false}, "axis": null},
   "y": {"field": "p", "type": "quantitative", "scale": {"domain": [-0.092, 1.276], "nice": false, "zero": false}, "axis": null},
   "color": {"field": "cat", "type": "nominal", "scale": {"domain": ["P1","P2","P3"], "range": ["#0080FF","#FF00FF","#006400"]}, "legend": {"orient": "none", "legendX": 987, "legendY": 230, "title": null, "symbolType": "circle", "symbolSize": 45, "symbolStrokeWidth": 1, "symbolFillColor": "transparent", "labelFontSize": 26, "labelFont": "Liberation Sans", "labelColor": "#000000", "symbolOffset": 80, "labelOffset": -87, "rowPadding": 3.7, "padding": 0}}}}
]},
{"width": 226, "height": 182, "layer": [
 {"data": {"name": "strips"}, "transform": [{"filter": "datum.item === 'R1713070A'"}], "mark": {"type": "rect", "fill": "#A0CBE2", "stroke": "#000000", "strokeWidth": 1}, "encoding": {"x": {"datum": -6.84, "type": "quantitative", "scale": {"domain": [-6.84, 6.84], "nice": false, "zero": false}, "axis": null}, "x2": {"datum": 6.84}, "y": {"datum": 1.092, "type": "quantitative", "scale": {"domain": [-0.092, 1.276], "nice": false, "zero": false}, "axis": null}, "y2": {"datum": 1.276}}},
 {"data": {"name": "strips"}, "transform": [{"filter": "datum.item === 'R1713070A'"}], "mark": {"type": "text", "fontSize": 18, "font": "Liberation Sans", "color": "#000000", "baseline": "middle", "dy": 1}, "encoding": {"x": {"datum": 0, "type": "quantitative", "scale": {"domain": [-6.84, 6.84], "nice": false, "zero": false}, "axis": null}, "y": {"datum": 1.184, "type": "quantitative", "scale": {"domain": [-0.092, 1.276], "nice": false, "zero": false}, "axis": null}, "text": {"field": "item", "type": "nominal"}}},
 {"data": {"name": "curves"}, "transform": [{"filter": "datum.item === 'R1713070A'"}], "mark": {"type": "line", "strokeWidth": 1, "interpolate": "monotone"}, "encoding": {
   "x": {"field": "theta", "type": "quantitative", "scale": {"domain": [-6.84, 6.84], "nice": false, "zero": false}, "axis": null},
   "y": {"field": "p", "type": "quantitative", "scale": {"domain": [-0.092, 1.276], "nice": false, "zero": false}, "axis": null},
   "color": {"field": "cat", "type": "nominal", "scale": {"domain": ["P1","P2","P3"], "range": ["#0080FF","#FF00FF","#006400"]}, "legend": {"orient": "none", "legendX": 987, "legendY": 230, "title": null, "symbolType": "circle", "symbolSize": 45, "symbolStrokeWidth": 1, "symbolFillColor": "transparent", "labelFontSize": 26, "labelFont": "Liberation Sans", "labelColor": "#000000", "symbolOffset": 80, "labelOffset": -87, "rowPadding": 3.7, "padding": 0}}}}
]},
{"width": 226, "height": 182, "layer": [
 {"data": {"name": "strips"}, "transform": [{"filter": "datum.item === 'R1713080A'"}], "mark": {"type": "rect", "fill": "#A0CBE2", "stroke": "#000000", "strokeWidth": 1}, "encoding": {"x": {"datum": -6.84, "type": "quantitative", "scale": {"domain": [-6.84, 6.84], "nice": false, "zero": false}, "axis": null}, "x2": {"datum": 6.84}, "y": {"datum": 1.092, "type": "quantitative", "scale": {"domain": [-0.092, 1.276], "nice": false, "zero": false}, "axis": {"orient": "right", "values": [0,0.2,0.4,0.6,0.8,1], "format": ".1f", "labelPadding": 13, "title": null, "labelFlush": false}}, "y2": {"datum": 1.276}}},
 {"data": {"name": "strips"}, "transform": [{"filter": "datum.item === 'R1713080A'"}], "mark": {"type": "text", "fontSize": 18, "font": "Liberation Sans", "color": "#000000", "baseline": "middle", "dy": 1}, "encoding": {"x": {"datum": 0, "type": "quantitative", "scale": {"domain": [-6.84, 6.84], "nice": false, "zero": false}, "axis": null}, "y": {"datum": 1.184, "type": "quantitative", "scale": {"domain": [-0.092, 1.276], "nice": false, "zero": false}, "axis": {"orient": "right", "values": [0,0.2,0.4,0.6,0.8,1], "format": ".1f", "labelPadding": 13, "title": null, "labelFlush": false}}, "text": {"field": "item", "type": "nominal"}}},
 {"data": {"name": "curves"}, "transform": [{"filter": "datum.item === 'R1713080A'"}], "mark": {"type": "line", "strokeWidth": 1, "interpolate": "monotone"}, "encoding": {
   "x": {"field": "theta", "type": "quantitative", "scale": {"domain": [-6.84, 6.84], "nice": false, "zero": false}, "axis": null},
   "y": {"field": "p", "type": "quantitative", "scale": {"domain": [-0.092, 1.276], "nice": false, "zero": false}, "axis": {"orient": "right", "values": [0,0.2,0.4,0.6,0.8,1], "format": ".1f", "labelPadding": 13, "title": null, "labelFlush": false}},
   "color": {"field": "cat", "type": "nominal", "scale": {"domain": ["P1","P2","P3"], "range": ["#0080FF","#FF00FF","#006400"]}, "legend": {"orient": "none", "legendX": 987, "legendY": 230, "title": null, "symbolType": "circle", "symbolSize": 45, "symbolStrokeWidth": 1, "symbolFillColor": "transparent", "labelFontSize": 26, "labelFont": "Liberation Sans", "labelColor": "#000000", "symbolOffset": 80, "labelOffset": -87, "rowPadding": 3.7, "padding": 0}}}}
]},
{"width": 226, "height": 182, "layer": [
 {"data": {"name": "strips"}, "transform": [{"filter": "datum.item === 'R1713010A'"}], "mark": {"type": "rect", "fill": "#A0CBE2", "stroke": "#000000", "strokeWidth": 1}, "encoding": {"x": {"datum": -6.84, "type": "quantitative", "scale": {"domain": [-6.84, 6.84], "nice": false, "zero": false}, "axis": {"orient": "bottom", "values": [-6,-4,-2,0,2,4,6], "labelPadding": 15, "labelExpr": "'' + datum.value", "title": null, "labelFlush": false}}, "x2": {"datum": 6.84}, "y": {"datum": 1.092, "type": "quantitative", "scale": {"domain": [-0.092, 1.276], "nice": false, "zero": false}, "axis": {"orient": "left", "values": [0,0.2,0.4,0.6,0.8,1], "format": ".1f", "labelPadding": 16, "title": null, "labelFlush": false}}, "y2": {"datum": 1.276}}},
 {"data": {"name": "strips"}, "transform": [{"filter": "datum.item === 'R1713010A'"}], "mark": {"type": "text", "fontSize": 18, "font": "Liberation Sans", "color": "#000000", "baseline": "middle", "dy": 1}, "encoding": {"x": {"datum": 0, "type": "quantitative", "scale": {"domain": [-6.84, 6.84], "nice": false, "zero": false}, "axis": {"orient": "bottom", "values": [-6,-4,-2,0,2,4,6], "labelPadding": 15, "labelExpr": "'' + datum.value", "title": null, "labelFlush": false}}, "y": {"datum": 1.184, "type": "quantitative", "scale": {"domain": [-0.092, 1.276], "nice": false, "zero": false}, "axis": {"orient": "left", "values": [0,0.2,0.4,0.6,0.8,1], "format": ".1f", "labelPadding": 16, "title": null, "labelFlush": false}}, "text": {"field": "item", "type": "nominal"}}},
 {"data": {"name": "curves"}, "transform": [{"filter": "datum.item === 'R1713010A'"}], "mark": {"type": "line", "strokeWidth": 1, "interpolate": "monotone"}, "encoding": {
   "x": {"field": "theta", "type": "quantitative", "scale": {"domain": [-6.84, 6.84], "nice": false, "zero": false}, "axis": {"orient": "bottom", "values": [-6,-4,-2,0,2,4,6], "labelPadding": 15, "labelExpr": "'' + datum.value", "title": null, "labelFlush": false}},
   "y": {"field": "p", "type": "quantitative", "scale": {"domain": [-0.092, 1.276], "nice": false, "zero": false}, "axis": {"orient": "left", "values": [0,0.2,0.4,0.6,0.8,1], "format": ".1f", "labelPadding": 16, "title": null, "labelFlush": false}},
   "color": {"field": "cat", "type": "nominal", "scale": {"domain": ["P1","P2","P3"], "range": ["#0080FF","#FF00FF","#006400"]}, "legend": {"orient": "none", "legendX": 987, "legendY": 230, "title": null, "symbolType": "circle", "symbolSize": 45, "symbolStrokeWidth": 1, "symbolFillColor": "transparent", "labelFontSize": 26, "labelFont": "Liberation Sans", "labelColor": "#000000", "symbolOffset": 80, "labelOffset": -87, "rowPadding": 3.7, "padding": 0}}}}
]},
{"width": 226, "height": 182, "layer": [
 {"data": {"name": "strips"}, "transform": [{"filter": "datum.item === 'R1713020A'"}], "mark": {"type": "rect", "fill": "#A0CBE2", "stroke": "#000000", "strokeWidth": 1}, "encoding": {"x": {"datum": -6.84, "type": "quantitative", "scale": {"domain": [-6.84, 6.84], "nice": false, "zero": false}, "axis": {"orient": "bottom", "values": [-6,-4,-2,0,2,4,6], "labels": false, "title": "θ", "titleAnchor": "end", "titleAlign": "center", "titlePadding": 56, "titleFontSize": 26, "labelFlush": false}}, "x2": {"datum": 6.84}, "y": {"datum": 1.092, "type": "quantitative", "scale": {"domain": [-0.092, 1.276], "nice": false, "zero": false}, "axis": null}, "y2": {"datum": 1.276}}},
 {"data": {"name": "strips"}, "transform": [{"filter": "datum.item === 'R1713020A'"}], "mark": {"type": "text", "fontSize": 18, "font": "Liberation Sans", "color": "#000000", "baseline": "middle", "dy": 1}, "encoding": {"x": {"datum": 0, "type": "quantitative", "scale": {"domain": [-6.84, 6.84], "nice": false, "zero": false}, "axis": {"orient": "bottom", "values": [-6,-4,-2,0,2,4,6], "labels": false, "title": "θ", "titleAnchor": "end", "titleAlign": "center", "titlePadding": 56, "titleFontSize": 26, "labelFlush": false}}, "y": {"datum": 1.184, "type": "quantitative", "scale": {"domain": [-0.092, 1.276], "nice": false, "zero": false}, "axis": null}, "text": {"field": "item", "type": "nominal"}}},
 {"data": {"name": "curves"}, "transform": [{"filter": "datum.item === 'R1713020A'"}], "mark": {"type": "line", "strokeWidth": 1, "interpolate": "monotone"}, "encoding": {
   "x": {"field": "theta", "type": "quantitative", "scale": {"domain": [-6.84, 6.84], "nice": false, "zero": false}, "axis": {"orient": "bottom", "values": [-6,-4,-2,0,2,4,6], "labels": false, "title": "θ", "titleAnchor": "end", "titleAlign": "center", "titlePadding": 56, "titleFontSize": 26, "labelFlush": false}},
   "y": {"field": "p", "type": "quantitative", "scale": {"domain": [-0.092, 1.276], "nice": false, "zero": false}, "axis": null},
   "color": {"field": "cat", "type": "nominal", "scale": {"domain": ["P1","P2","P3"], "range": ["#0080FF","#FF00FF","#006400"]}, "legend": {"orient": "none", "legendX": 987, "legendY": 230, "title": null, "symbolType": "circle", "symbolSize": 45, "symbolStrokeWidth": 1, "symbolFillColor": "transparent", "labelFontSize": 26, "labelFont": "Liberation Sans", "labelColor": "#000000", "symbolOffset": 80, "labelOffset": -87, "rowPadding": 3.7, "padding": 0}}}}
]},
{"width": 226, "height": 182, "layer": [
 {"data": {"name": "strips"}, "transform": [{"filter": "datum.item === 'R1713030A'"}], "mark": {"type": "rect", "fill": "#A0CBE2", "stroke": "#000000", "strokeWidth": 1}, "encoding": {"x": {"datum": -6.84, "type": "quantitative", "scale": {"domain": [-6.84, 6.84], "nice": false, "zero": false}, "axis": {"orient": "bottom", "values": [-6,-4,-2,0,2,4,6], "labelPadding": 15, "labelExpr": "'' + datum.value", "title": null, "labelFlush": false}}, "x2": {"datum": 6.84}, "y": {"datum": 1.092, "type": "quantitative", "scale": {"domain": [-0.092, 1.276], "nice": false, "zero": false}, "axis": null}, "y2": {"datum": 1.276}}},
 {"data": {"name": "strips"}, "transform": [{"filter": "datum.item === 'R1713030A'"}], "mark": {"type": "text", "fontSize": 18, "font": "Liberation Sans", "color": "#000000", "baseline": "middle", "dy": 1}, "encoding": {"x": {"datum": 0, "type": "quantitative", "scale": {"domain": [-6.84, 6.84], "nice": false, "zero": false}, "axis": {"orient": "bottom", "values": [-6,-4,-2,0,2,4,6], "labelPadding": 15, "labelExpr": "'' + datum.value", "title": null, "labelFlush": false}}, "y": {"datum": 1.184, "type": "quantitative", "scale": {"domain": [-0.092, 1.276], "nice": false, "zero": false}, "axis": null}, "text": {"field": "item", "type": "nominal"}}},
 {"data": {"name": "curves"}, "transform": [{"filter": "datum.item === 'R1713030A'"}], "mark": {"type": "line", "strokeWidth": 1, "interpolate": "monotone"}, "encoding": {
   "x": {"field": "theta", "type": "quantitative", "scale": {"domain": [-6.84, 6.84], "nice": false, "zero": false}, "axis": {"orient": "bottom", "values": [-6,-4,-2,0,2,4,6], "labelPadding": 15, "labelExpr": "'' + datum.value", "title": null, "labelFlush": false}},
   "y": {"field": "p", "type": "quantitative", "scale": {"domain": [-0.092, 1.276], "nice": false, "zero": false}, "axis": null},
   "color": {"field": "cat", "type": "nominal", "scale": {"domain": ["P1","P2","P3"], "range": ["#0080FF","#FF00FF","#006400"]}, "legend": {"orient": "none", "legendX": 987, "legendY": 230, "title": null, "symbolType": "circle", "symbolSize": 45, "symbolStrokeWidth": 1, "symbolFillColor": "transparent", "labelFontSize": 26, "labelFont": "Liberation Sans", "labelColor": "#000000", "symbolOffset": 80, "labelOffset": -87, "rowPadding": 3.7, "padding": 0}}}}
]},
{"width": 226, "height": 182, "layer": [
 {"data": {"name": "strips"}, "transform": [{"filter": "datum.item === 'R1713040A'"}], "mark": {"type": "rect", "fill": "#A0CBE2", "stroke": "#000000", "strokeWidth": 1}, "encoding": {"x": {"datum": -6.84, "type": "quantitative", "scale": {"domain": [-6.84, 6.84], "nice": false, "zero": false}, "axis": {"orient": "bottom", "values": [-6,-4,-2,0,2,4,6], "labels": false, "title": null, "labelFlush": false}}, "x2": {"datum": 6.84}, "y": {"datum": 1.092, "type": "quantitative", "scale": {"domain": [-0.092, 1.276], "nice": false, "zero": false}, "axis": {"orient": "right", "values": [0,0.2,0.4,0.6,0.8,1], "labels": false, "title": null}}, "y2": {"datum": 1.276}}},
 {"data": {"name": "strips"}, "transform": [{"filter": "datum.item === 'R1713040A'"}], "mark": {"type": "text", "fontSize": 18, "font": "Liberation Sans", "color": "#000000", "baseline": "middle", "dy": 1}, "encoding": {"x": {"datum": 0, "type": "quantitative", "scale": {"domain": [-6.84, 6.84], "nice": false, "zero": false}, "axis": {"orient": "bottom", "values": [-6,-4,-2,0,2,4,6], "labels": false, "title": null, "labelFlush": false}}, "y": {"datum": 1.184, "type": "quantitative", "scale": {"domain": [-0.092, 1.276], "nice": false, "zero": false}, "axis": {"orient": "right", "values": [0,0.2,0.4,0.6,0.8,1], "labels": false, "title": null}}, "text": {"field": "item", "type": "nominal"}}},
 {"data": {"name": "curves"}, "transform": [{"filter": "datum.item === 'R1713040A'"}], "mark": {"type": "line", "strokeWidth": 1, "interpolate": "monotone"}, "encoding": {
   "x": {"field": "theta", "type": "quantitative", "scale": {"domain": [-6.84, 6.84], "nice": false, "zero": false}, "axis": {"orient": "bottom", "values": [-6,-4,-2,0,2,4,6], "labels": false, "title": null, "labelFlush": false}},
   "y": {"field": "p", "type": "quantitative", "scale": {"domain": [-0.092, 1.276], "nice": false, "zero": false}, "axis": {"orient": "right", "values": [0,0.2,0.4,0.6,0.8,1], "labels": false, "title": null}},
   "color": {"field": "cat", "type": "nominal", "scale": {"domain": ["P1","P2","P3"], "range": ["#0080FF","#FF00FF","#006400"]}, "legend": {"orient": "none", "legendX": 987, "legendY": 230, "title": null, "symbolType": "circle", "symbolSize": 45, "symbolStrokeWidth": 1, "symbolFillColor": "transparent", "labelFontSize": 26, "labelFont": "Liberation Sans", "labelColor": "#000000", "symbolOffset": 80, "labelOffset": -87, "rowPadding": 3.7, "padding": 0}}}}
]}
]
}
